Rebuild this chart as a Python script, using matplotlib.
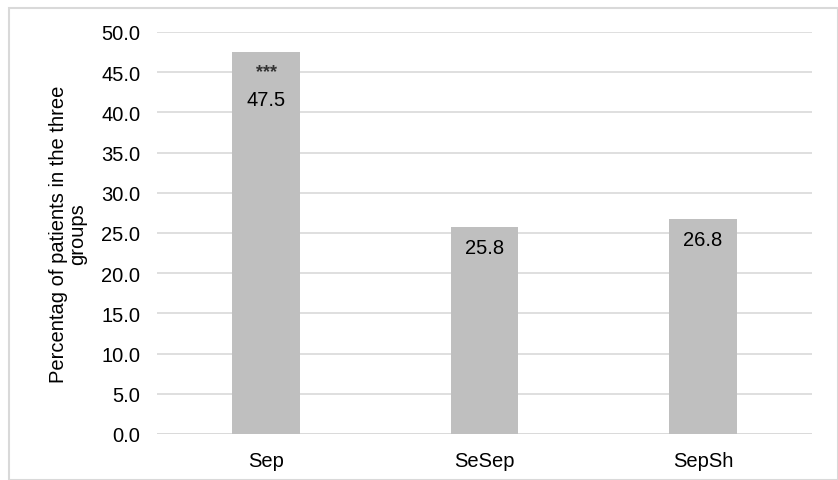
import matplotlib.pyplot as plt
from matplotlib.patches import Rectangle

# Data
groups = ["Sep", "SeSep", "SepSh"]
percent = [47.5, 25.8, 26.8]
stars = ["***", "", ""]

plt.rcParams['font.family'] = ['Liberation Sans', 'DejaVu Sans']

fig = plt.figure(figsize=(8.38, 4.81), dpi=100)
ax = fig.add_axes([157/838, 1 - 435/481, 655/838, 402/481])

x = range(len(groups))
bars = ax.bar(x, percent, width=0.31, color="#bfbfbf", zorder=2)

ax.set_xlim(-0.5, 2.5)
ax.set_ylim(0, 50)
ax.set_yticks([i * 5 for i in range(11)])
ax.set_yticklabels([f"{i * 5:.1f}" for i in range(11)], fontsize=14.5)
ax.set_xticks(list(x))
ax.set_xticklabels(groups, fontsize=14.5)
ax.tick_params(length=0, pad=12)
ax.tick_params(axis="x", pad=12)
ax.yaxis.grid(True, color="#d9d9d9", linewidth=1.2, zorder=0)
for s in ax.spines.values():
    s.set_visible(False)
ax.axhline(0, color="#d9d9d9", linewidth=1.2, zorder=1)

ax.set_ylabel("Percentag of patients in the three\ngroups", fontsize=14.5, labelpad=10,
              linespacing=1.0)

# value labels inside the bars
for bar, val, st in zip(bars, percent, stars):
    cx = bar.get_x() + bar.get_width() / 2
    off = -34 if st else -15
    ax.annotate(f"{val:.1f}", (cx, val), xytext=(0, off), textcoords="offset points",
                ha="center", va="center", fontsize=14.5)
    if st:
        ax.annotate(st, (cx, val), xytext=(0, -14), textcoords="offset points",
                    ha="center", va="center", fontsize=13, fontweight="bold",
                    color="#333333")

# light frame around the chart
fig.patches.append(Rectangle((9/838, 0), 1 - 9/838, 1 - 9/481, transform=fig.transFigure,
                             fill=False, edgecolor="#d9d9d9", linewidth=1.5))

plt.savefig("out.png", dpi=100)
